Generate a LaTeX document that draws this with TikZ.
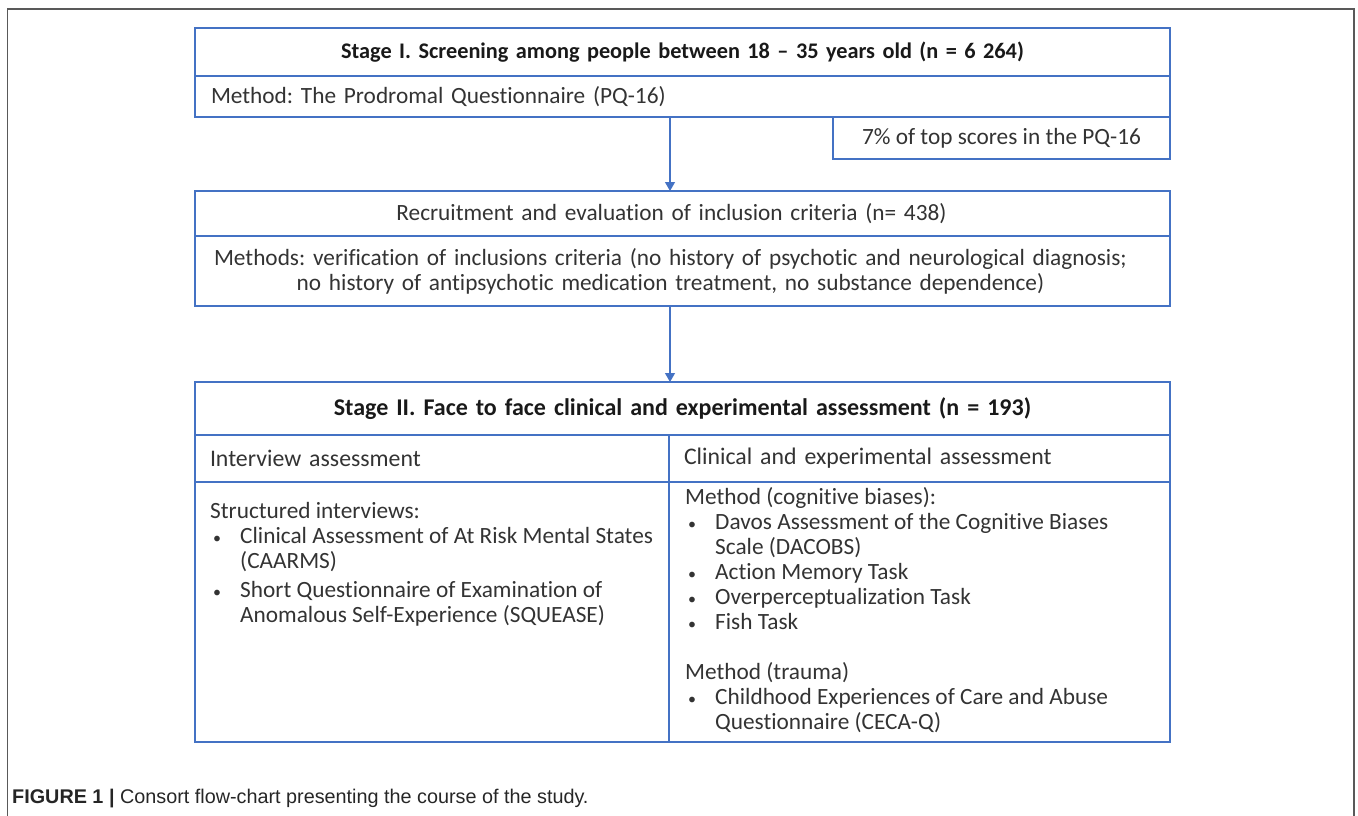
\documentclass[tikz,border=0pt]{standalone}
\usepackage{fontspec}
\setmainfont{Carlito}[Ligatures={TeX,NoCommon}]
\newfontfamily\capfont{Liberation Sans}
\usetikzlibrary{arrows.meta,positioning,calc}
\definecolor{boxblue}{HTML}{4472C4}
\definecolor{txtgray}{HTML}{333333}
\newcommand{\lstbullet}{\hspace*{3pt}\makebox[27pt][l]{\fontsize{16}{25}\selectfont\textbullet}}
\newcommand{\lstindent}{\hspace*{30pt}}
\frenchspacing
\begin{document}
\begin{tikzpicture}[x=1pt, y=-1pt,
  every node/.style={font=\fontsize{23.3}{25}\selectfont, text=txtgray},
  box/.style={draw=boxblue, line width=2pt, inner xsep=16pt, inner ysep=0pt, outer sep=0pt},
  title/.style={font=\bfseries\fontsize{22.3}{25}\selectfont, text=black!90},
  head/.style={font=\fontsize{23.8}{25}\selectfont},
  arr/.style={draw=boxblue, line width=1.2pt, -{Triangle[width=10pt,length=9pt]}}]

\useasboundingbox (0,0) rectangle (1358,816);
\draw[line width=1.2pt, black!65] (7.5,816) |- (1354,9) -- (1354,816);

\coordinate (ax) at (670,0);

\node[box, title, text width=943pt, align=center, minimum height=48pt] (s1title) at (682.5,52) {Stage I. Screening among people between 18 – 35 years old (n = 6 264)};
\node[box, text width=943pt, align=left, minimum height=41pt, below=0pt of s1title] (s1method) {Method: The Prodromal Questionnaire (PQ-16)};
\node[box, minimum width=337pt, minimum height=42pt, anchor=north east] (topscore) at (s1method.south east) {7\% of top scores in the PQ-16};

\node[box, text width=943pt, align=center, minimum height=45pt] (r1title) at (682.5,213.5) {\hspace*{-22pt}Recruitment and evaluation of inclusion criteria (n= 438)};
\node[box, text width=943pt, align=center, minimum height=70pt, below=0pt of r1title] (r1method) {\hspace*{-24pt}Methods: verification of inclusions criteria (no history of psychotic and neurological diagnosis;\\ \hspace*{-24pt}no history of antipsychotic medication treatment, no substance dependence)};

\node[box, title, font=\bfseries\fontsize{24}{25}\selectfont, text width=943pt, align=center, minimum height=53pt] (s2title) at (682.5,408.5) {Stage II. Face to face clinical and experimental assessment (n = 193)};
\node[box, head, text width=444pt, align=left, minimum height=47pt, inner xsep=15pt, anchor=north west] (s2headL) at (s2title.south west) {Interview assessment};
\node[box, head, text width=471pt, align=left, minimum height=47pt, inner xsep=15pt, anchor=north west] (s2headR) at (s2headL.north east) {Clinical and experimental assessment};
\node[box, minimum width=474pt, minimum height=260pt, anchor=north west] (s2bodyL) at (s2headL.south west) {};
\node[box, minimum width=501pt, minimum height=260pt, anchor=north west] (s2bodyR) at (s2headR.south west) {};

\node[align=left, inner sep=0pt, anchor=north west] (intlist) at ([shift={(15,20)}]s2bodyL.north west) {Structured interviews:\\ \lstbullet Clinical Assessment of At Risk Mental States\\ \lstindent (CAARMS)\\[4pt] \lstbullet Short Questionnaire of Examination of\\ \lstindent Anomalous Self-Experience (SQUEASE)};
\node[align=left, inner sep=0pt, anchor=north west] (biaslist) at ([shift={(16,5)}]s2bodyR.north west) {Method (cognitive biases):\\ \lstbullet Davos Assessment of the Cognitive Biases\\ \lstindent Scale (DACOBS)\\ \lstbullet Action Memory Task\\ \lstbullet Overperceptualization Task\\ \lstbullet Fish Task\\[25pt] Method (trauma)\\ \lstbullet Childhood Experiences of Care and Abuse\\ \lstindent Questionnaire (CECA-Q)};

\draw[arr] (s1method.south -| ax) -- (r1title.north -| ax);
\draw[arr] (r1method.south -| ax) -- (s2title.north -| ax);

\node[anchor=base west, inner sep=0pt, font=\capfont\fontsize{19.8}{22}\selectfont, text=black!85] (caption) at (12,803) {\textbf{FIGURE 1 |} Consort flow-chart presenting the course of the study.};
\end{tikzpicture}
\end{document}
